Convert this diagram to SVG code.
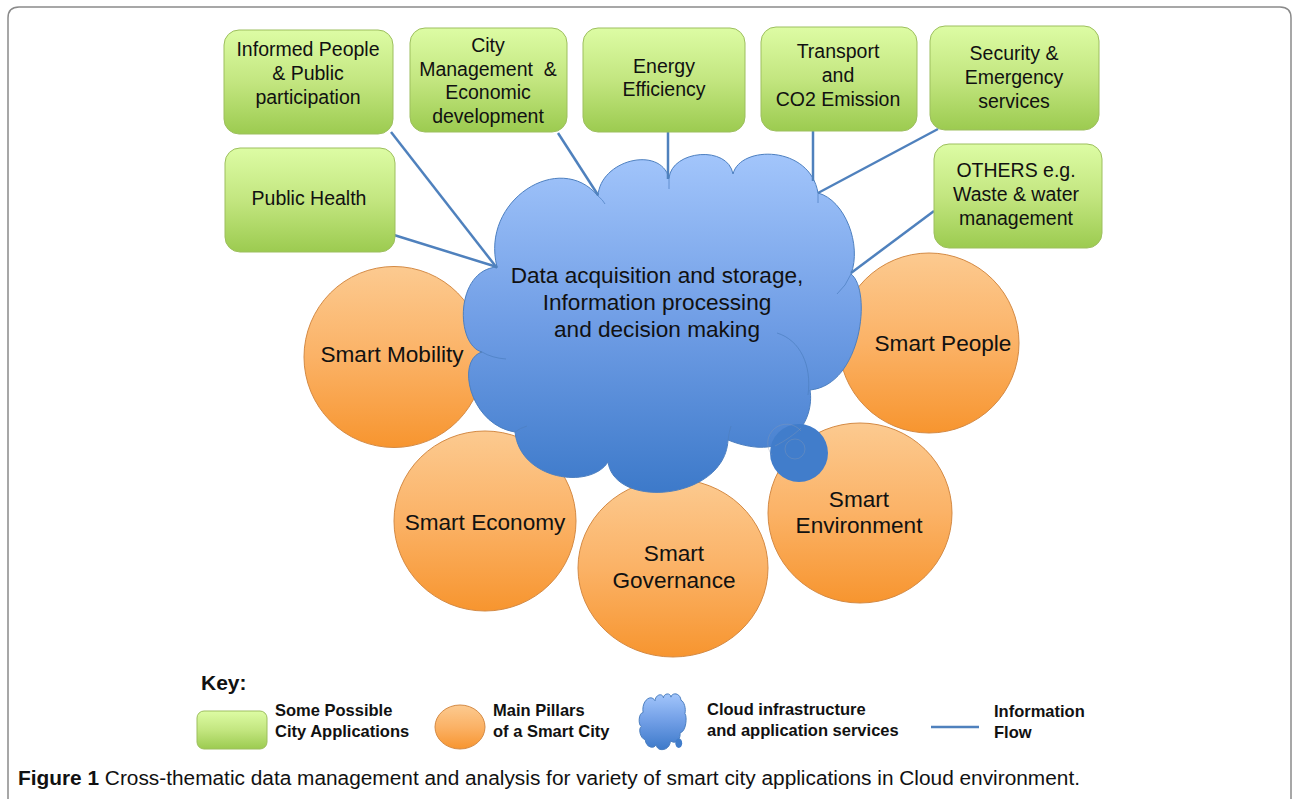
<svg xmlns="http://www.w3.org/2000/svg" xmlns:xlink="http://www.w3.org/1999/xlink" width="1294" height="799" viewBox="0 0 1294 799">
<defs>
  <linearGradient id="gGreen" x1="0" y1="0" x2="0" y2="1">
    <stop offset="0" stop-color="#ddfca4"/>
    <stop offset="0.5" stop-color="#c3e680"/>
    <stop offset="1" stop-color="#9ccb50"/>
  </linearGradient>
  <linearGradient id="gOrange" x1="0" y1="0" x2="0" y2="1">
    <stop offset="0" stop-color="#fcca90"/>
    <stop offset="0.5" stop-color="#fbb266"/>
    <stop offset="1" stop-color="#f7952f"/>
  </linearGradient>
  <linearGradient id="gCloud" gradientUnits="userSpaceOnUse" x1="0" y1="155" x2="0" y2="495">
    <stop offset="0" stop-color="#a2c5fb"/>
    <stop offset="0.5" stop-color="#6f9de5"/>
    <stop offset="1" stop-color="#3c79c9"/>
  </linearGradient>
  <path id="cloudShape" vector-effect="non-scaling-stroke" d="M 497 267 C 480 200 560 150 598 196 C 600 160 660 145 669 178 C 672 150 728 145 733 174 C 740 145 810 145 818 193 C 845 200 862 245 851 274 C 872 290 862 385 810 390 C 815 420 790 465 728 440 C 725 500 615 510 608 462 C 590 490 520 480 515 432 C 470 425 455 360 482 352 C 455 345 455 270 497 267 Z"/>
  <circle id="cloudBall" vector-effect="non-scaling-stroke" cx="799" cy="453" r="29"/>
</defs>
<style>
  .frame { fill:none; stroke:#8a8a8a; stroke-width:1.5; }
  .box { fill:url(#gGreen); stroke:#9dbf5e; stroke-width:1; }
  .pillar { fill:url(#gOrange); stroke:#d48a44; stroke-width:1; }
  .cloud { fill:url(#gCloud); stroke:#4c7fc0; stroke-width:1; }
  .ball { fill:#417dcb; stroke:none; }
  .inner { fill:none; stroke:#4c7fc0; stroke-width:0.9; opacity:0.8; }
  .ghost { fill:none; stroke:#8d9bb3; stroke-width:0.7; opacity:0.5; }
  .flow { fill:none; stroke:#4f81bd; stroke-width:2.5; }
  .lbl { font-family:"Liberation Sans", Arial, sans-serif; font-size:19.5px; fill:#111; text-anchor:middle; }
  .big { font-size:22.6px; }
  .key { font-family:"Liberation Sans", Arial, sans-serif; font-weight:bold; font-size:16.5px; fill:#111; }
  .keyTitle { font-family:"Liberation Sans", Arial, sans-serif; font-weight:bold; font-size:21px; fill:#111; }
  .cap { font-family:"Liberation Sans", Arial, sans-serif; font-size:19.5px; fill:#111; }
</style>
<rect width="1294" height="799" fill="#ffffff"/>
<path class="frame" d="M 8 799 V 18 Q 8 7 19 7 H 1280 Q 1291 7 1291 18 V 799"/>

<!-- Pillars -->
<g id="smart-mobility"><ellipse class="pillar" cx="394" cy="357" rx="90" ry="90.5"/><text class="lbl big" x="392" y="362">Smart Mobility</text></g>
<g id="smart-economy"><ellipse class="pillar" cx="485" cy="521" rx="91" ry="90"/><text class="lbl big" x="485" y="530">Smart Economy</text></g>
<g id="smart-governance"><ellipse class="pillar" cx="673" cy="568" rx="95" ry="89"/><text class="lbl big"><tspan x="674" y="561">Smart</tspan><tspan x="674" y="588">Governance</tspan></text></g>
<g id="smart-environment"><ellipse class="pillar" cx="860" cy="513" rx="92" ry="90"/><text class="lbl big"><tspan x="859" y="507">Smart</tspan><tspan x="859" y="533">Environment</tspan></text></g>
<g id="smart-people"><ellipse class="pillar" cx="929" cy="343" rx="90" ry="90"/><text class="lbl big" x="943" y="351">Smart People</text></g>

<!-- Cloud -->
<g id="cloud">
  <use xlink:href="#cloudShape" class="cloud"/>
  <use xlink:href="#cloudBall" class="ball"/>
  <path class="inner" d="M 777 333 C 800 340 812 365 808 395 M 851 274 Q 846 286 837 294 M 482 352 Q 492 358 506 359 M 598 196 Q 603 200 605 204 M 669 178 L 669 189 M 818 193 L 818 203 M 728 440 Q 729 432 731 426 M 515 432 Q 520 428 527 426"/>
  <circle class="ghost" cx="795" cy="449" r="10"/>
  <path class="ghost" d="M 772 455 A 17 17 0 0 1 801 431 M 775 446 C 785 441 795 434 801 428"/>
  <text class="lbl big"><tspan x="657" y="283">Data acquisition and storage,</tspan><tspan x="657" y="310">Information processing</tspan><tspan x="657" y="337">and decision making</tspan></text>
</g>

<!-- Connectors -->
<g id="connectors">
  <line class="flow" x1="391" y1="132" x2="497" y2="268"/>
  <line class="flow" x1="394" y1="235" x2="497" y2="267"/>
  <line class="flow" x1="558" y1="133" x2="598" y2="195"/>
  <line class="flow" x1="668" y1="131" x2="668" y2="179"/>
  <line class="flow" x1="813" y1="130" x2="813" y2="181"/>
  <line class="flow" x1="938" y1="129" x2="818" y2="193"/>
  <line class="flow" x1="934" y1="211" x2="851" y2="273"/>
</g>

<!-- Application boxes -->
<g id="informed-people"><rect class="box" x="224" y="30" width="169" height="104" rx="15"/><text class="lbl"><tspan x="308" y="56">Informed People</tspan><tspan x="308" y="80">&amp; Public</tspan><tspan x="308" y="104">participation</tspan></text></g>
<g id="city-management"><rect class="box" x="410" y="28" width="157" height="104" rx="15"/><text class="lbl" xml:space="preserve"><tspan x="488" y="52">City</tspan><tspan x="488" y="76">Management  &amp;</tspan><tspan x="488" y="99">Economic</tspan><tspan x="488" y="123">development</tspan></text></g>
<g id="energy-efficiency"><rect class="box" x="583" y="28" width="162" height="104" rx="15"/><text class="lbl"><tspan x="664" y="73">Energy</tspan><tspan x="664" y="96">Efficiency</tspan></text></g>
<g id="transport"><rect class="box" x="761" y="27" width="156" height="104" rx="15"/><text class="lbl"><tspan x="838" y="58">Transport</tspan><tspan x="838" y="82">and</tspan><tspan x="838" y="106">CO2 Emission</tspan></text></g>
<g id="security"><rect class="box" x="930" y="26" width="169" height="104" rx="15"/><text class="lbl"><tspan x="1014" y="60">Security &amp;</tspan><tspan x="1014" y="84">Emergency</tspan><tspan x="1014" y="108">services</tspan></text></g>
<g id="public-health"><rect class="box" x="225" y="148" width="170" height="104" rx="15"/><text class="lbl" x="309" y="205">Public Health</text></g>
<g id="others"><rect class="box" x="934" y="144" width="168" height="104" rx="15"/><text class="lbl"><tspan x="1016" y="177">OTHERS e.g.</tspan><tspan x="1016" y="201">Waste &amp; water</tspan><tspan x="1016" y="225">management</tspan></text></g>

<!-- Legend -->
<g id="legend">
  <text class="keyTitle" x="201" y="690">Key:</text>
  <rect class="box" x="197" y="711" width="70" height="38" rx="7"/>
  <text class="key"><tspan x="275" y="716">Some Possible</tspan><tspan x="275" y="737">City Applications</tspan></text>
  <ellipse class="pillar" cx="460" cy="727" rx="25" ry="22"/>
  <text class="key"><tspan x="493" y="716">Main Pillars</tspan><tspan x="493" y="737">of a Smart City</tspan></text>
  <g transform="translate(639 694) scale(0.118 0.165) translate(-462 -155)">
    <use xlink:href="#cloudShape" class="cloud"/>
    <use xlink:href="#cloudBall" class="ball"/>
  </g>
  <text class="key"><tspan x="707" y="715">Cloud infrastructure</tspan><tspan x="707" y="736">and application services</tspan></text>
  <line class="flow" x1="931" y1="727" x2="979" y2="727"/>
  <text class="key"><tspan x="994" y="717">Information</tspan><tspan x="994" y="738">Flow</tspan></text>
</g>

<!-- Caption -->
<text class="cap" x="18" y="785" textLength="1062" lengthAdjust="spacingAndGlyphs"><tspan font-weight="bold">Figure 1</tspan> Cross-thematic data management and analysis for variety of smart city applications in Cloud environment.</text>
</svg>
